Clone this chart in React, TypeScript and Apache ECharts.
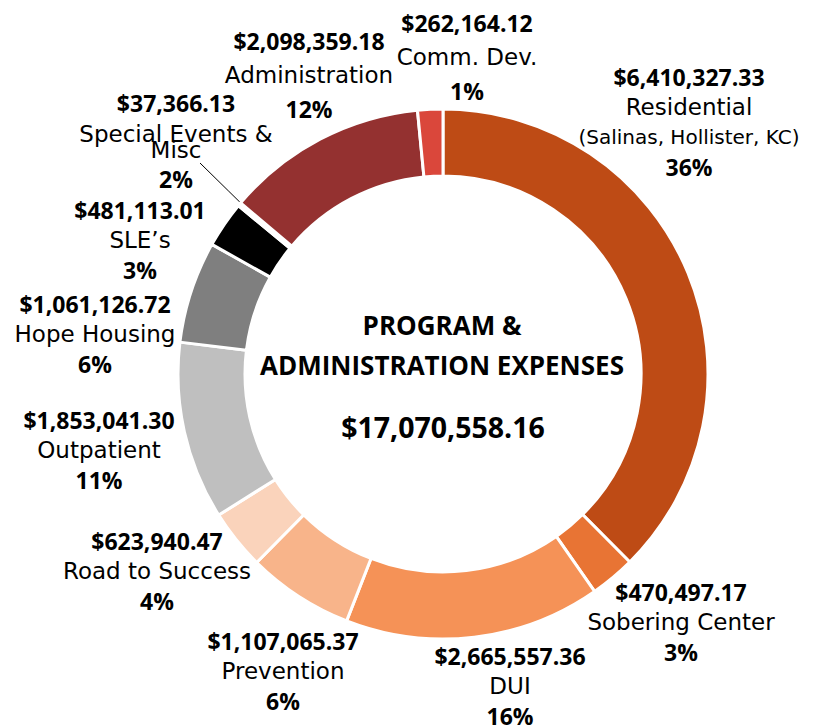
import React, { useEffect, useRef } from "react";
import * as echarts from "echarts";

// ---- data ----
const categories = [
  "Residential\n(Salinas, Hollister, KC)",
  "Sobering Center",
  "DUI",
  "Prevention",
  "Road to Success",
  "Outpatient",
  "Hope Housing",
  "SLE\u2019s",
  "Special Events &\nMisc",
  "Administration",
  "Comm. Dev.",
];
const amounts = [
  6410327.33, 470497.17, 2665557.36, 1107065.37, 623940.47, 1853041.3,
  1061126.72, 481113.01, 37366.13, 2098359.18, 262164.12,
];
const percentLabels = ["36%", "3%", "16%", "6%", "4%", "11%", "6%", "3%", "2%", "12%", "1%"];
const totalLabel = "$17,070,558.16";
const titleLines = ["PROGRAM &", "ADMINISTRATION EXPENSES"];

// ---- styling / layout ----
const colors = [
  "#BE4B15", "#E87434", "#F59257", "#F8B48A", "#FAD3BB", "#BFBFBF",
  "#7F7F7F", "#000000", "#FFFFFF", "#943130", "#DA473B",
];
const labelX = [689, 681, 510, 283, 157, 99, 95, 140, 176, 309, 467];
const labelY = [122, 622, 686, 671, 571, 450, 334, 240, 142, 75, 57];
const wideSpacing = [false, false, false, false, false, false, false, false, false, true, true];

const BOLD_FONT = "'Open Sans', 'Noto Sans', sans-serif";
const REG_FONT = "'DejaVu Sans', 'Noto Sans', sans-serif";
const VAL_SIZE = 23;
const NAME_SIZE = 23;

const fmtMoney = (v: number) =>
  "$" + v.toLocaleString("en-US", { minimumFractionDigits: 2, maximumFractionDigits: 2 });

export default function App() {
  const ref = useRef<HTMLDivElement>(null);
  useEffect(() => {
    if (!ref.current) return;
    const chart = echarts.init(ref.current, null, { renderer: "svg" });
    const cx = 443;
    const cy = 374;
    const rOuter = 265;
    const rInner = 198;

    const rich: any = {};
    const mk = (lh: number, suffix: string) => {
      rich["v" + suffix] = { fontFamily: BOLD_FONT, fontWeight: "bold", fontSize: VAL_SIZE, lineHeight: lh, color: "#000" };
      rich["n" + suffix] = { fontFamily: REG_FONT, fontWeight: "normal", fontSize: NAME_SIZE, lineHeight: lh, color: "#000" };
      rich["s" + suffix] = { fontFamily: REG_FONT, fontWeight: "normal", fontSize: 20, lineHeight: lh, color: "#000" };
      rich["p" + suffix] = { fontFamily: BOLD_FONT, fontWeight: "bold", fontSize: VAL_SIZE, lineHeight: lh, color: "#000" };
    };
    mk(30, "");
    mk(34, "W");
    // Special Events custom spacing
    rich.vS = { fontFamily: BOLD_FONT, fontWeight: "bold", fontSize: VAL_SIZE, lineHeight: 42, color: "#000" };
    rich.nS = { fontFamily: REG_FONT, fontSize: NAME_SIZE, lineHeight: 20, color: "#000" };
    rich.mS = { fontFamily: REG_FONT, fontSize: NAME_SIZE, lineHeight: 12, color: "#000" };
    rich.pS = { fontFamily: BOLD_FONT, fontWeight: "bold", fontSize: VAL_SIZE, lineHeight: 46, color: "#000" };

    const data = categories.map((name, i) => {
      const item: any = {
        name,
        value: amounts[i],
        itemStyle: { color: colors[i] },
      };
      if (i === 8) {
        item.labelLine = { show: true, lineStyle: { color: "#000", width: 1 } };
      }
      return item;
    });

    const formatter = (p: any) => {
      const i = p.dataIndex;
      const lines = categories[i].split("\n");
      if (i === 8) {
        return [
          `{vS|${fmtMoney(amounts[i])}}`,
          `{nS|${lines[0]}}`,
          `{mS|${lines[1]}}`,
          `{pS|${percentLabels[i]}}`,
        ].join("\n");
      }
      const s = wideSpacing[i] ? "W" : "";
      return [
        `{v${s}|${fmtMoney(amounts[i])}}`,
        ...lines.map((l, j) => (j === 0 ? `{n${s}|${l}}` : `{s${s}|${l}}`)),
        `{p${s}|${percentLabels[i]}}`,
      ].join("\n");
    };

    chart.setOption({
      animation: false,
      backgroundColor: "#ffffff",
      series: [
        {
          type: "pie",
          center: [cx, cy],
          radius: [rInner, rOuter],
          startAngle: 90,
          clockwise: true,
          avoidLabelOverlap: false,
          minAngle: 0,
          itemStyle: { borderColor: "#ffffff", borderWidth: 3 },
          label: {
            show: true,
            position: "outside",
            formatter,
            rich,
            align: "center",
          },
          labelLine: { show: false },
          emphasis: { disabled: true },
          labelLayout: (params: any) => {
            const i = params.dataIndex;
            const res: any = {
              x: labelX[i],
              y: labelY[i],
              align: "center",
              verticalAlign: "middle",
            };
            if (i === 8 && params.labelLinePoints) {
              const p0 = params.labelLinePoints[0];
              const k = 243 / rOuter;
              const start = [cx + (p0[0] - cx) * k, cy + (p0[1] - cy) * k];
              const end = [200, 163];
              res.labelLinePoints = [start, [(start[0] + end[0]) / 2, (start[1] + end[1]) / 2], end];
            }
            return res;
          },
          data,
        },
      ],
      graphic: [
        {
          type: "text",
          x: cx - 1,
          y: 325,
          style: {
            text: titleLines[0],
            fill: "#000",
            font: `bold 26px ${BOLD_FONT}`,
            align: "center",
            verticalAlign: "middle",
          },
        },
        {
          type: "text",
          x: cx - 1,
          y: 365,
          style: {
            text: titleLines[1],
            fill: "#000",
            font: `bold 26px ${BOLD_FONT}`,
            align: "center",
            verticalAlign: "middle",
          },
        },
        {
          type: "text",
          x: cx,
          y: 427,
          style: {
            text: totalLabel,
            fill: "#000",
            font: `bold 28.5px ${BOLD_FONT}`,
            align: "center",
            verticalAlign: "middle",
          },
        },
      ],
    });
    return () => chart.dispose();
  }, []);
  return (
    <div
      ref={ref}
      style={{ position: "fixed", left: 0, top: 0, width: 813, height: 725 }}
    />
  );
}
